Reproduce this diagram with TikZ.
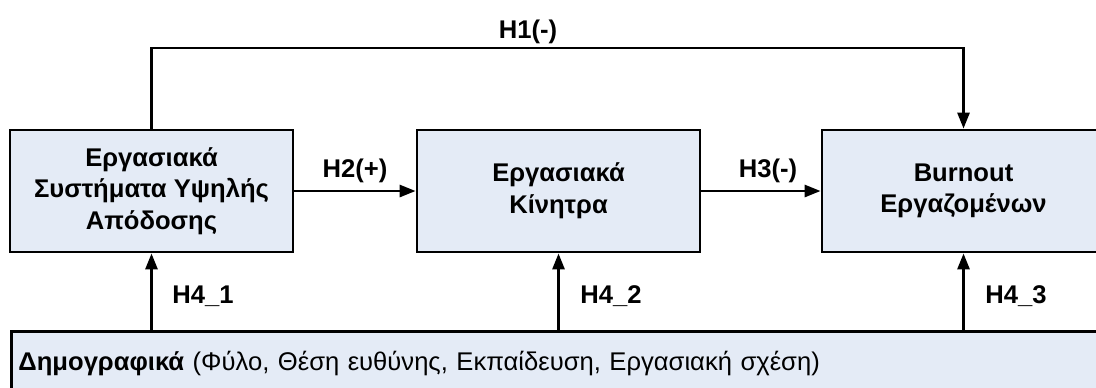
\documentclass[tikz,border=0pt]{standalone}
\usepackage{fontspec}
\setmainfont{Liberation Sans}
\usetikzlibrary{arrows.meta}
\definecolor{boxfill}{RGB}{228,235,246}

\begin{document}
\fontsize{12.8pt}{15.8pt}\selectfont
\begin{tikzpicture}[
    x=0.5pt, y=-0.5pt,
    block/.style={rectangle, draw, line width=1.4pt, fill=boxfill, minimum width=141.5pt, minimum height=61pt, align=center, font=\bfseries},
    demobox/.style={rectangle, draw, line width=1.4pt, fill=boxfill, anchor=north west, text width=540pt, minimum height=32pt, inner xsep=3.5pt, align=left},
    hyp/.style={font=\bfseries, inner sep=0pt},
    arrow/.style={-{Triangle[length=8pt, width=6pt]}, line width=1.4pt},
]
\useasboundingbox (0,0) rectangle (1096,387);
\clip (0,0) rectangle (1096,387);

\node[block] (hpws) at (151.5,191) {Εργασιακά\\Συστήματα Υψηλής\\Απόδοσης};
\node[block] (motiv) at (558.5,191) {Εργασιακά\\Κίνητρα};
\node[block] (burn) at (963.5,191) {Burnout\\Εργαζομένων};
\node[demobox] (demo) at (10,330) {\textbf{Δημογραφικά} (Φύλο, Θέση ευθύνης, Εκπαίδευση, Εργασιακή σχέση)};

\coordinate (top) at (540,48);

% direct and mediated paths
\draw[arrow] (hpws.north) |- (top) -| (burn.north);
\draw[arrow] (hpws) -- (motiv);
\draw[arrow] (motiv) -- (burn);

% moderators
\draw[arrow] (hpws.south |- demo.north) -- (hpws.south);
\draw[arrow] (motiv.south |- demo.north) -- (motiv.south);
\draw[arrow] (burn.south |- demo.north) -- (burn.south);

\node[hyp] (h1) at (528,32) {H1(-)};
\node[hyp] (h2) at (355,171) {H2(+)};
\node[hyp] (h3) at (768,171) {H3(-)};
\node[hyp, anchor=west] (h41) at (172,296) {H4\_1};
\node[hyp, anchor=west] (h42) at (580,296) {H4\_2};
\node[hyp, anchor=west] (h43) at (985,296) {H4\_3};
\end{tikzpicture}
\end{document}
